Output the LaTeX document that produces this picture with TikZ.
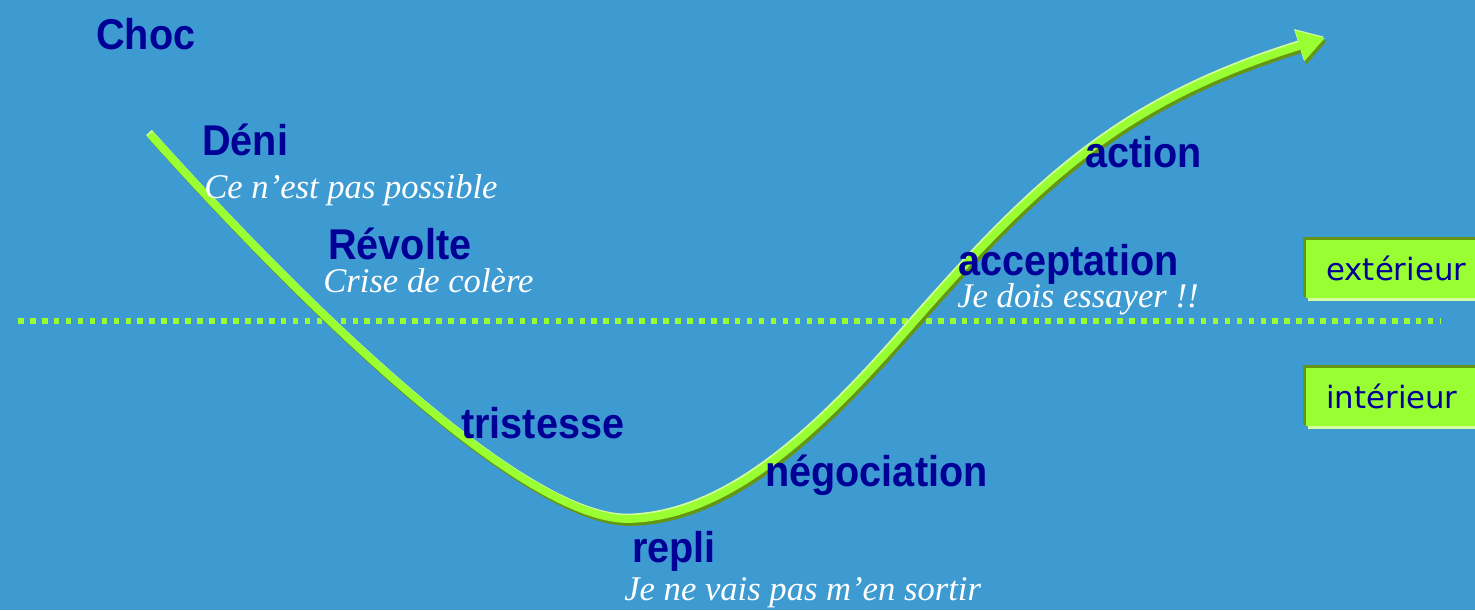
\documentclass[tikz,border=0pt]{standalone}
\usepackage{fontspec}
\setmainfont{Liberation Sans}
\newfontfamily\lblfont[FakeStretch=0.92]{Liberation Sans Bold}
\newfontfamily\remfont{Liberation Serif Italic}
\newfontfamily\zonefont{DejaVu Sans}
\usetikzlibrary{arrows.meta}
\definecolor{fond}{RGB}{61,155,210}
\definecolor{titre}{RGB}{0,0,150}
\definecolor{vert}{RGB}{153,255,51}
\definecolor{vertfonce}{RGB}{100,150,20}
\definecolor{vertpale}{RGB}{210,255,160}
\tikzset{
  lbl/.style={anchor=base west,inner sep=0pt,text=titre,font=\fontsize{24.5}{28}\lblfont},
  rem/.style={anchor=base west,inner sep=0pt,text=white,font=\fontsize{19.7}{23}\remfont},
  zone/.style={anchor=base west,inner sep=0pt,text=titre,font=\fontsize{17.5}{21}\zonefont},
  fleche/.style={line width=4.4pt,-{Triangle[width=17pt,length=15pt]}},
}
\newcommand\courbe{(150,134) .. controls (285,285) and (520,522) .. (630,519)
  .. controls (730,516) and (820,430) .. (912,324)
  .. controls (1040,178) and (1125,100) .. (1325,38)}
\begin{document}
\begin{tikzpicture}[x=0.02cm,y=-0.02cm]
  % fond
  \fill[fond] (0,0) rectangle (1475,610);
  \useasboundingbox (0,0) rectangle (1475,610);
  % frontiere exterieur / interieur
  \draw[vert,line width=3.2pt,dash pattern=on 3.2pt off 3.6pt] (18,321) -- (1440,321);
  % courbe du deuil (ombre, reflet, trait)
  \draw[vertfonce,fleche,shift={(2,3)}] \courbe;
  \draw[vertpale,fleche,shift={(-1,-1.5)}] \courbe;
  \draw[vert,fleche] \courbe;
  % etapes
  \node[lbl] (choc) at (96,49) {Choc};
  \node[lbl] (deni) at (202,155) {Déni};
  \node[rem] (deniRem) at (204,198) {Ce n’est pas possible};
  \node[lbl] (revolte) at (328,259) {Révolte};
  \node[rem] (revolteRem) at (323,292) {Crise de colère};
  \node[lbl] (tristesse) at (461,438) {tristesse};
  \node[lbl] (repli) at (632,562) {repli};
  \node[rem] (repliRem) at (624,600) {Je ne vais pas m’en sortir};
  \node[lbl] (nego) at (765,486) {négociation};
  \node[lbl] (accept) at (958,275) {acceptation};
  \node[rem] (acceptRem) at (957,307) {Je dois essayer !!};
  \node[lbl] (action) at (1085,167) {action};
  % cadres
  \foreach \y/\txt/\nom in {238/extérieur/ext,366/intérieur/int}{
    \fill[vertpale] (1308,\y+3) rectangle (1475,\y+63);
    \fill[vertfonce] (1303,\y-1) rectangle (1475,\y+59);
    \fill[vert] (1306,\y+2) rectangle (1475,\y+60);
    \node[zone] (\nom) at (1326,\y+42) {\txt};
  }
\end{tikzpicture}
\end{document}
